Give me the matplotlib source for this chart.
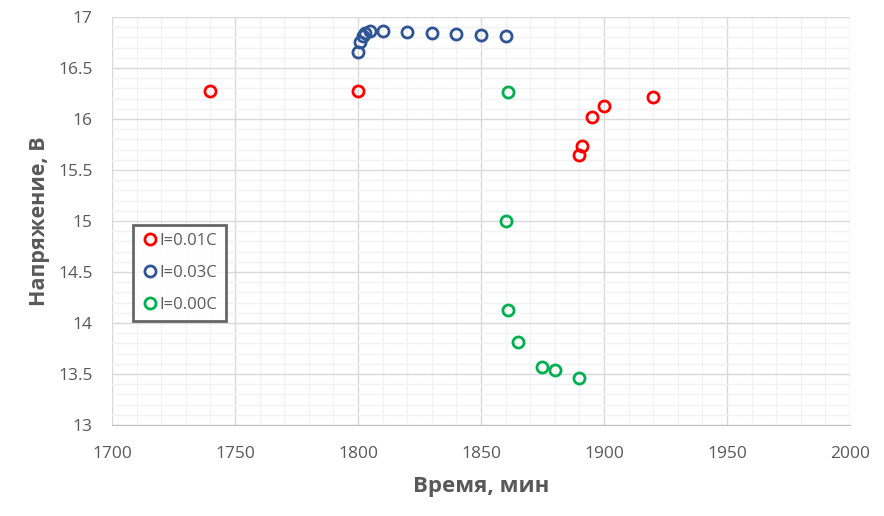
import matplotlib
matplotlib.use("Agg")
import matplotlib.pyplot as plt
from matplotlib.ticker import MultipleLocator, FuncFormatter

plt.rcParams['font.family'] = ['Open Sans', 'DejaVu Sans']

# I=0.01C
t_red = [1740, 1800, 1890, 1891, 1895, 1900, 1920]
u_red = [16.27, 16.27, 15.65, 15.74, 16.02, 16.13, 16.22]

# I=0.03C
t_blue = [1800, 1801, 1802, 1803, 1805, 1810, 1820, 1830, 1840, 1850, 1860]
u_blue = [16.66, 16.76, 16.81, 16.84, 16.86, 16.86, 16.85, 16.84, 16.83, 16.82, 16.81]

# I=0.00C
t_green = [1861, 1860, 1861, 1865, 1875, 1880, 1890]
u_green = [16.26, 15.0, 14.13, 13.81, 13.57, 13.54, 13.46]

grey = '#595959'

fig = plt.figure(figsize=(8.84, 5.16), dpi=100)
ax = fig.add_axes([0.1267, 0.1764, 0.8348, 0.7906])

ax.plot(t_red, u_red, 'o', ms=8, mfc='none', mec='#FF0000', mew=2, label='I=0.01C', zorder=3)
ax.plot(t_blue, u_blue, 'o', ms=8, mfc='none', mec='#2F5597', mew=2, label='I=0.03C', zorder=3)
ax.plot(t_green, u_green, 'o', ms=8, mfc='none', mec='#00B050', mew=2, label='I=0.00C', zorder=3)

ax.set_xlim(1700, 2000)
ax.set_ylim(13, 17)
ax.xaxis.set_major_locator(MultipleLocator(50))
ax.xaxis.set_minor_locator(MultipleLocator(10))
ax.yaxis.set_major_locator(MultipleLocator(0.5))
ax.yaxis.set_minor_locator(MultipleLocator(0.1))
ax.yaxis.set_major_formatter(FuncFormatter(lambda v, p: f'{v:g}'))

ax.grid(which='major', color='#D9D9D9', lw=1)
ax.grid(which='minor', color='#F2F2F2', lw=1)
ax.set_axisbelow(True)
for s in ['top', 'right', 'left']:
    ax.spines[s].set_visible(False)
ax.spines['bottom'].set_color('#BFBFBF')

ax.tick_params(which='both', length=0, labelsize=12.5, colors=grey)
ax.tick_params(axis='x', pad=15)
ax.tick_params(axis='y', pad=14)

ax.set_xlabel('Время, мин', fontsize=16, fontweight='bold', color=grey, labelpad=10)
ax.set_ylabel('Напряжение, В', fontsize=15.5, fontweight='bold', color=grey, labelpad=6)

leg = ax.legend(loc='lower left', bbox_to_anchor=(0.0285, 0.255), borderaxespad=0,
                fontsize=12, frameon=True, fancybox=False, edgecolor='#404040',
                handletextpad=0.1, labelspacing=0.95, borderpad=0.5,
                handlelength=1.0, labelcolor=grey)
leg.get_frame().set_linewidth(2)

fig.savefig('out.png', dpi=100)
